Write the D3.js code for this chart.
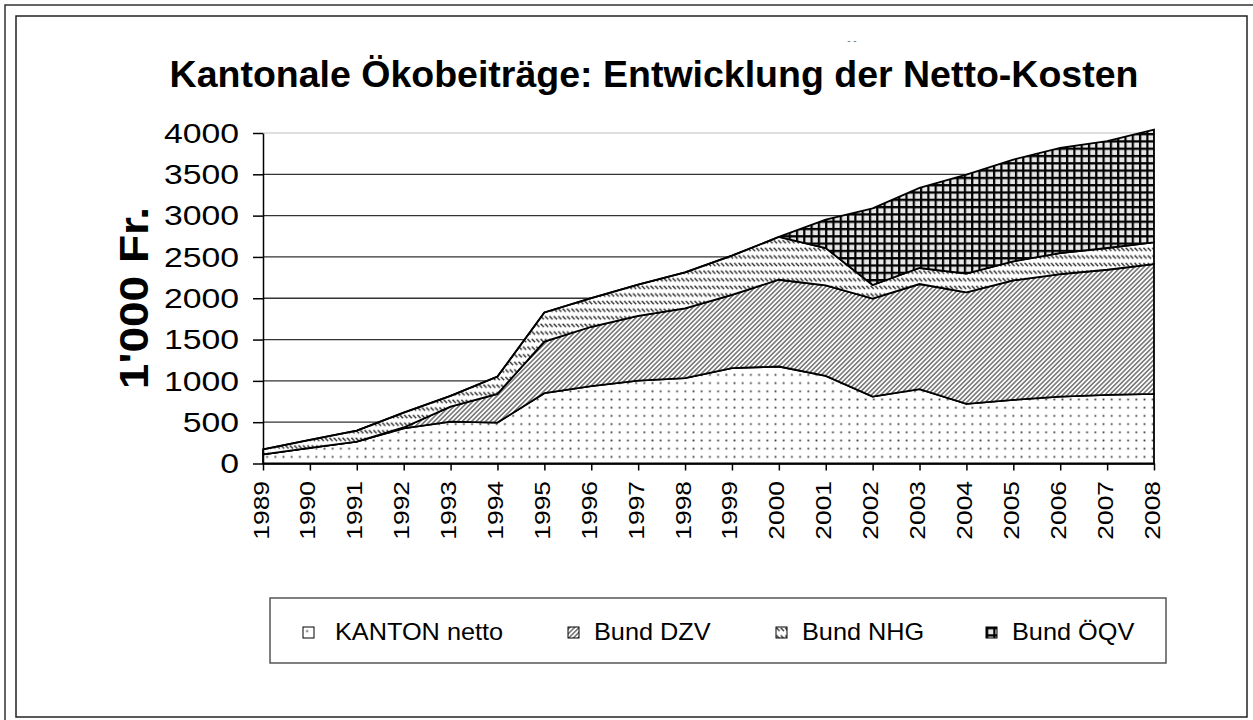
<!DOCTYPE html>
<html>
<head>
<meta charset="utf-8">
<script src="https://cdn.jsdelivr.net/npm/d3@7"></script>
<style>
body { margin: 0; background: #fff; }
text { font-family: "Liberation Sans", Arial, sans-serif; fill: #000; }
</style>
</head>
<body>
<script>
// Values (1'000 Fr.)
var years  = [1989,1990,1991,1992,1993,1994,1995,1996,1997,1998,1999,2000,2001,2002,2003,2004,2005,2006,2007,2008];
var kanton = [110,190,264,426,507,495,851,937,1004,1033,1154,1174,1061,810,899,721,770,810,830,842];
var dzv    = [0,0,0,10,182,347,625,718,784,844,888,1050,1094,1186,1273,1350,1446,1483,1515,1572];
var nhg    = [62,95,134,180,129,210,352,347,376,436,473,518,453,164,194,226,230,254,263,263];
var oeqv   = [0,0,0,0,0,0,0,0,0,0,0,0,344,927,970,1200,1233,1273,1293,1365];
var seriesNames = ["KANTON netto", "Bund DZV", "Bund NHG", "Bund ÖQV"];
var yTicks = [0,500,1000,1500,2000,2500,3000,3500,4000];
var title = "Kantonale Ökobeiträge: Entwicklung der Netto-Kosten";
var yTitle = "1'000 Fr.";

var svgWidth = 1253, svgHeight = 720;
var margin = {top: 133, left: 263, right: 99, bottom: 256.5};
var width = svgWidth - margin.left - margin.right;
var height = svgHeight - margin.top - margin.bottom;

var svg = d3.select("body").append("svg")
  .attr("width", svgWidth)
  .attr("height", svgHeight);

// outer frames
svg.append("path").attr("d", "M5,720V5H1253")
  .attr("fill", "none").attr("stroke", "#333").attr("stroke-width", 1.5);
svg.append("rect").attr("x", 16).attr("y", 16).attr("width", 1231).attr("height", 701)
  .attr("fill", "none").attr("stroke", "#222").attr("stroke-width", 1.5);

// fill patterns
var defs = svg.append("defs");
var p1 = defs.append("pattern").attr("id", "patKanton").attr("patternUnits", "userSpaceOnUse")
  .attr("width", 8.2).attr("height", 8.2);
p1.append("rect").attr("width", 8.2).attr("height", 8.2).attr("fill", "#fff");
p1.append("rect").attr("x", 3.2).attr("y", 3.2).attr("width", 1.8).attr("height", 1.8).attr("fill", "#444");

var p2 = defs.append("pattern").attr("id", "patDzv").attr("patternUnits", "userSpaceOnUse")
  .attr("width", 3.3).attr("height", 3.3).attr("patternTransform", "rotate(45)");
p2.append("rect").attr("width", 3.3).attr("height", 3.3).attr("fill", "#fff");
p2.append("line").attr("x1", 1.65).attr("y1", 0).attr("x2", 1.65).attr("y2", 3.3)
  .attr("stroke", "#444").attr("stroke-width", 1.15);

var p3 = defs.append("pattern").attr("id", "patNhg").attr("patternUnits", "userSpaceOnUse")
  .attr("width", 4.4).attr("height", 7.6);
p3.append("rect").attr("width", 4.4).attr("height", 7.6).attr("fill", "#fff");
p3.append("line").attr("x1", 0.4).attr("y1", 0.8).attr("x2", 3.6).attr("y2", 4)
  .attr("stroke", "#333").attr("stroke-width", 1.5);

var p4 = defs.append("pattern").attr("id", "patOeqv").attr("patternUnits", "userSpaceOnUse")
  .attr("width", 7.3).attr("height", 7.3);
p4.append("rect").attr("width", 7.3).attr("height", 7.3).attr("fill", "#e6e6e6");
p4.append("path").attr("d", "M1.1,0V7.3M0,1.1H7.3").attr("stroke", "#000").attr("stroke-width", 2.2);

var fills = ["url(#patKanton)", "url(#patDzv)", "url(#patNhg)", "url(#patOeqv)"];

var chartGroup = svg.append("g")
  .attr("transform", `translate(${margin.left}, ${margin.top})`);

var xScale = d3.scaleLinear().domain([years[0], years[years.length - 1]]).range([0, width]);
var yScale = d3.scaleLinear().domain([0, 4000]).range([height, 0]);

// gridlines (top one is the light plot border)
chartGroup.selectAll(".grid")
  .data(yTicks.slice(1))
  .enter()
  .append("line")
  .attr("x1", 0).attr("x2", width)
  .attr("y1", d => yScale(d)).attr("y2", d => yScale(d))
  .attr("stroke", d => d === 4000 ? "#d4d4d4" : "#333")
  .attr("stroke-width", 1.3);

// stacked areas
var rows = years.map(function(y, i) {
  return {year: y, k: kanton[i], d: dzv[i], n: nhg[i], o: oeqv[i]};
});
var stack = d3.stack().keys(["k", "d", "n", "o"]);
var layers = stack(rows);

var area = d3.area()
  .x(d => xScale(d.data.year))
  .y0(d => yScale(d[0]))
  .y1(d => yScale(d[1]));

chartGroup.selectAll(".layer")
  .data(layers)
  .enter()
  .append("path")
  .attr("d", area)
  .attr("fill", (d, i) => fills[i])
  .attr("stroke", "#000")
  .attr("stroke-width", 1.8)
  .attr("stroke-linejoin", "miter");

// axes
var bottomAxis = d3.axisBottom(xScale).tickValues(years).tickFormat("").tickSizeInner(7).tickSizeOuter(0);
var leftAxis = d3.axisLeft(yScale).tickValues(yTicks).tickFormat("").tickSizeInner(10).tickSizeOuter(0);

chartGroup.append("g")
  .attr("transform", `translate(0, ${height})`)
  .call(bottomAxis)
  .call(g => g.selectAll("path, line").attr("stroke", "#000").attr("stroke-width", 1.5));
chartGroup.append("g")
  .call(leftAxis)
  .call(g => g.selectAll("path, line").attr("stroke", "#000").attr("stroke-width", 1.5));

// tick labels
chartGroup.selectAll(".ylab")
  .data(yTicks)
  .enter()
  .append("text")
  .attr("transform", d => `translate(-24, ${yScale(d) + 9.7}) scale(1.25,1)`)
  .attr("text-anchor", "end")
  .style("font-size", "27px")
  .text(d => d);

chartGroup.selectAll(".xlab")
  .data(years)
  .enter()
  .append("text")
  .attr("transform", d => `translate(${xScale(d) + 5.5}, ${height + 17.5}) rotate(-90) scale(1.2,1)`)
  .attr("text-anchor", "end")
  .style("font-size", "22px")
  .text(d => d);

// titles
svg.append("text")
  .attr("x", 654).attr("y", 87)
  .attr("text-anchor", "middle")
  .style("font-size", "37.5px")
  .style("font-weight", "bold")
  .text(title);

svg.append("text")
  .attr("x", 852).attr("y", 44)
  .attr("text-anchor", "middle")
  .style("font-size", "10px")
  .style("fill", "#777")
  .text("- -");

svg.append("text")
  .attr("transform", "translate(148, 298) rotate(-90) scale(1.15,1)")
  .attr("text-anchor", "middle")
  .style("font-size", "40px")
  .style("font-weight", "bold")
  .text(yTitle);

// legend
var legendX = [303, 568, 776, 986];
var legend = svg.append("g");
legend.append("rect")
  .attr("x", 270).attr("y", 598).attr("width", 896).attr("height", 65)
  .attr("fill", "#fff").attr("stroke", "#555").attr("stroke-width", 1.5);

var items = legend.selectAll(".item")
  .data(seriesNames)
  .enter()
  .append("g")
  .attr("transform", (d, i) => `translate(${legendX[i]}, 627)`);
items.append("rect")
  .attr("width", 11).attr("height", 11)
  .attr("fill", (d, i) => fills[i])
  .attr("stroke", "#000").attr("stroke-width", 1);
items.append("text")
  .attr("transform", (d, i) => `translate(${i === 0 ? 32 : 26}, 13) scale(1.1,1)`)
  .style("font-size", "23px")
  .text(d => d);
</script>
</body>
</html>
